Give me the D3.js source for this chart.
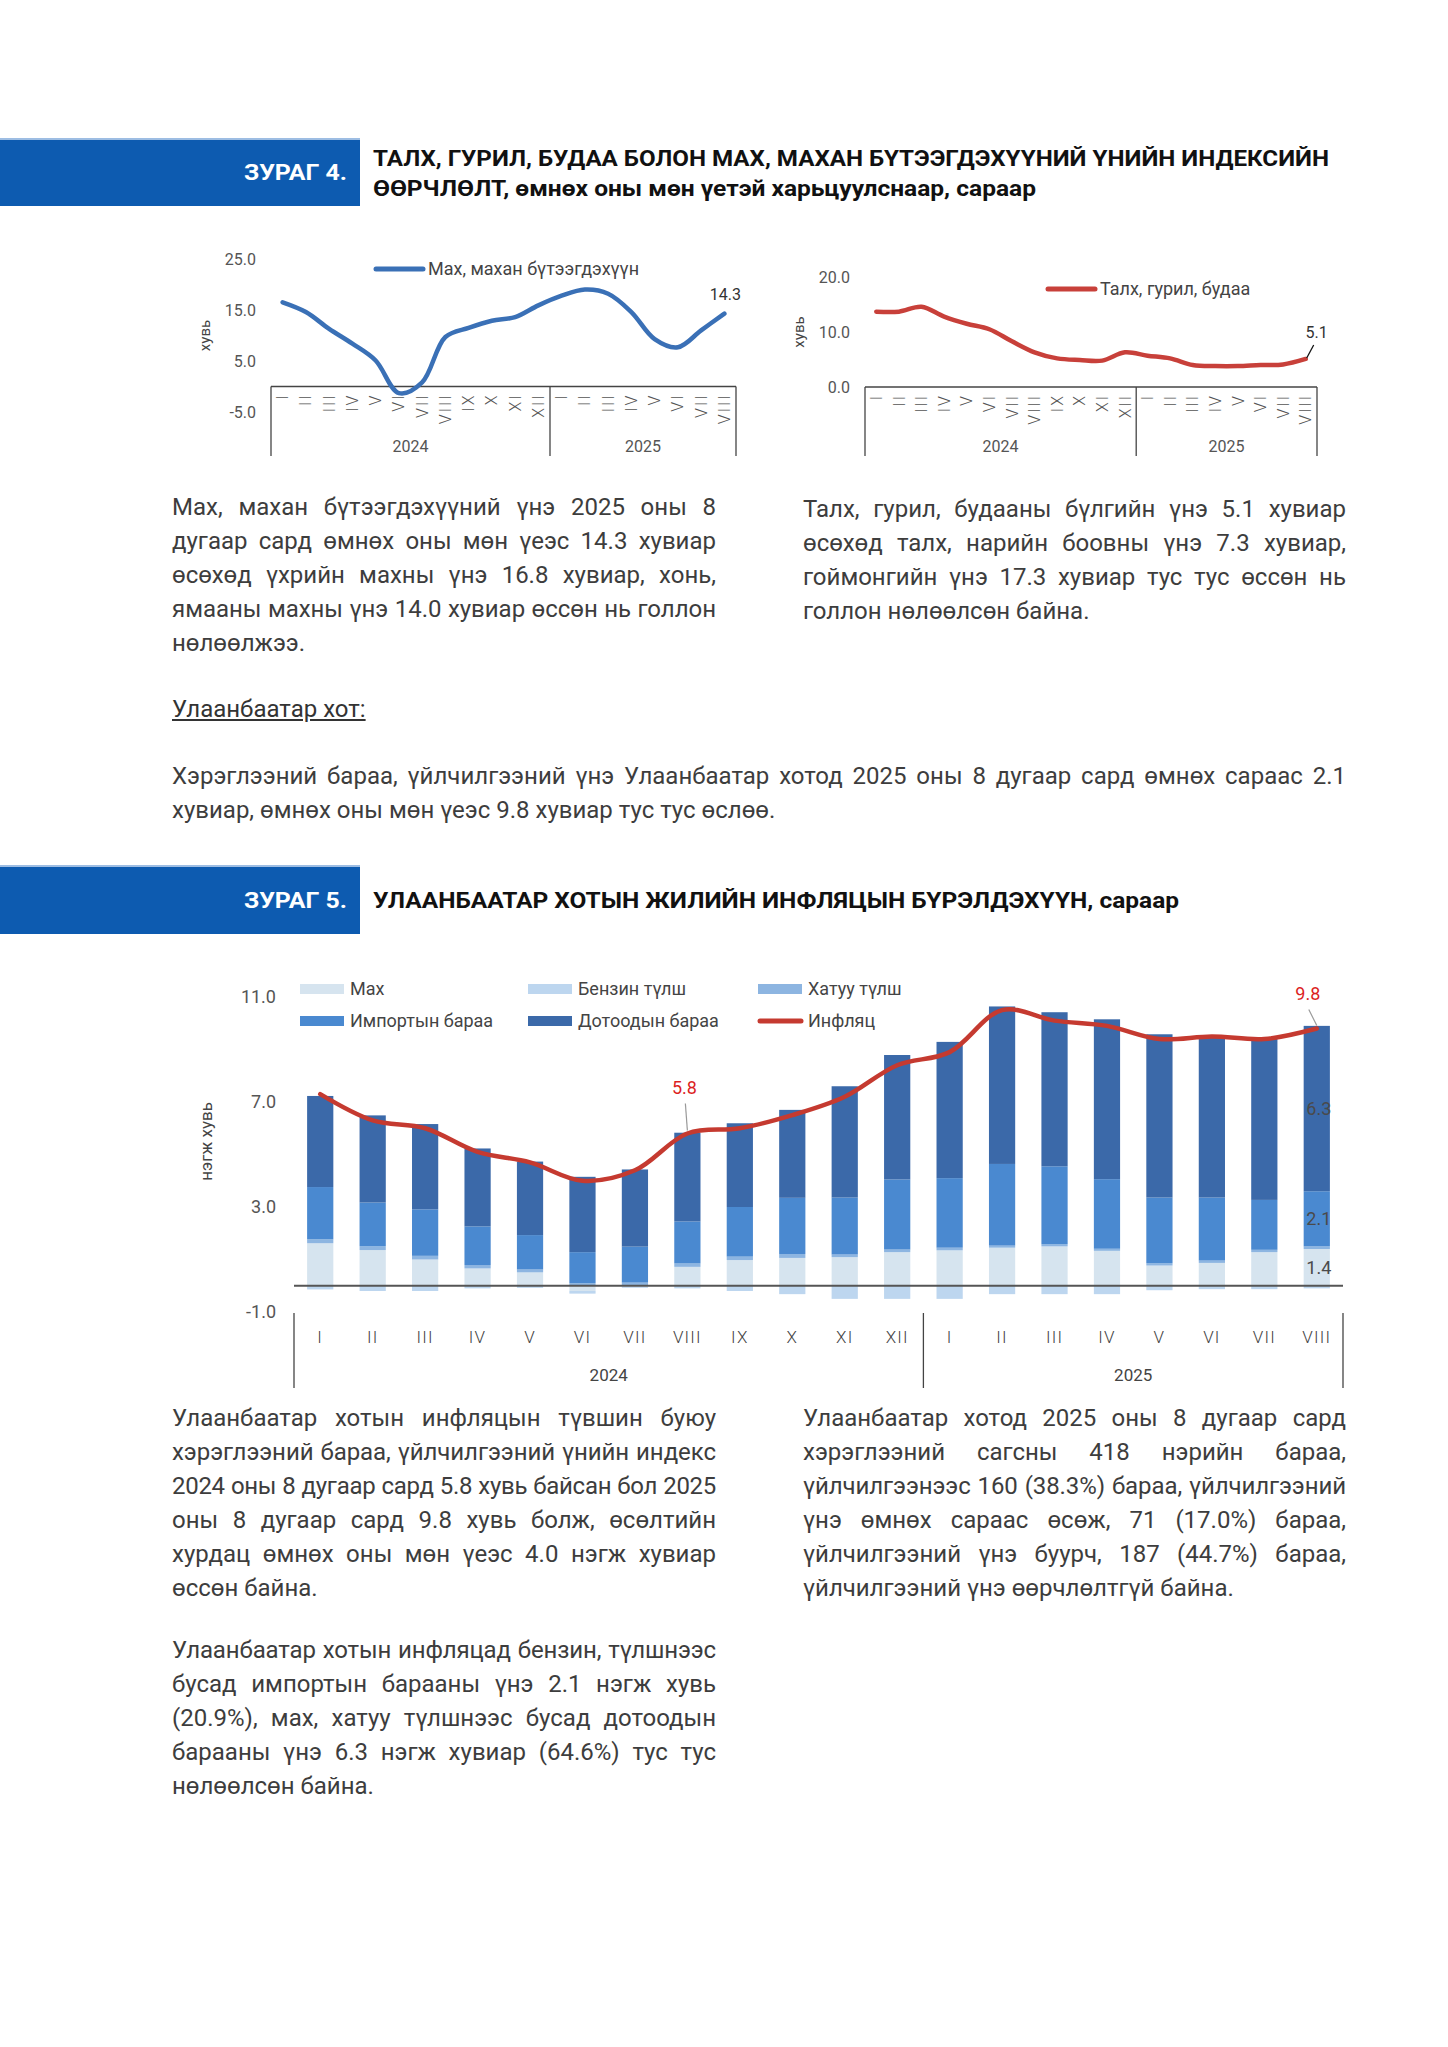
<!DOCTYPE html>
<html>
<head>
<meta charset="utf-8">
<script src="https://cdn.jsdelivr.net/npm/d3@7"></script>
<style>
  body { margin: 0; background: #fff; }
  #page { position: relative; width: 1448px; height: 2047px; overflow: hidden; font-family: Roboto, "Noto Sans", sans-serif; }
  #page svg { position: absolute; left: 0; top: 0; }
  .para { position: absolute; font-size: 24px; line-height: 34px; color: #3d3d3d; }
  .para div { text-align: justify; text-align-last: justify; white-space: nowrap; }
  .para div.last { text-align-last: left; }
</style>
</head>
<body>
<div id="page"></div>
<script>
// сарууд, он
const months = ["I","II","III","IV","V","VI","VII","VIII","IX","X","XI","XII","I","II","III","IV","V","VI","VII","VIII"];
const years = ["2024", "2025"];

// Зураг 4 - мах, талх гурил будаа (хувь)
const meatIdx  = [16.5, 14.6, 11.3, 8.4, 5.1, -1.3, 0.8, 9.7, 11.5, 12.9, 13.6, 15.9, 17.8, 19.0, 18.2, 14.6, 9.3, 7.7, 11.0, 14.3];
const breadIdx = [13.7, 13.7, 14.6, 12.8, 11.5, 10.5, 8.3, 6.3, 5.2, 4.9, 4.8, 6.3, 5.7, 5.2, 4.0, 3.8, 3.8, 4.0, 4.1, 5.1];
const meatTicks = [25, 15, 5, -5];
const breadTicks = [20, 10, 0];

// Зураг 5 - УБ инфляцын бүрэлдэхүүн (нэгж хувь)
const seriesNames = ["Мах", "Бензин түлш", "Хатуу түлш", "Импортын бараа", "Дотоодын бараа"];
const mah      = [1.62, 1.36, 1.00, 0.66, 0.51, -0.20, -0.05, 0.72, 0.98, 1.06, 1.09, 1.28, 1.35, 1.45, 1.50, 1.33, 0.77, 0.87, 1.28, 1.40];
const benzin   = [-0.14, -0.20, -0.20, -0.10, -0.08, -0.10, -0.03, -0.10, -0.20, -0.32, -0.50, -0.50, -0.50, -0.32, -0.32, -0.32, -0.17, -0.13, -0.13, -0.10];
const hatuu    = [0.15, 0.15, 0.14, 0.13, 0.11, 0.10, 0.12, 0.13, 0.13, 0.15, 0.10, 0.10, 0.10, 0.08, 0.08, 0.08, 0.09, 0.09, 0.09, 0.10];
const importGoods   = [1.99, 1.66, 1.77, 1.47, 1.31, 1.18, 1.37, 1.60, 1.89, 2.14, 2.17, 2.67, 2.65, 3.11, 2.97, 2.65, 2.50, 2.40, 1.90, 2.10];
const domesticGoods = [3.47, 3.32, 3.25, 2.97, 2.80, 2.87, 2.94, 3.38, 3.19, 3.35, 4.24, 4.74, 5.19, 6.00, 5.87, 6.09, 6.22, 6.13, 6.15, 6.30];
const inflation = [7.3, 6.3, 6.0, 5.1, 4.7, 4.0, 4.4, 5.8, 6.0, 6.5, 7.2, 8.4, 8.9, 10.5, 10.1, 9.9, 9.4, 9.5, 9.4, 9.8];
const inflTicks = [11, 7, 3, -1];
const barColors = ["#d6e4ef", "#bdd6ef", "#8db5e1", "#4a89d0", "#3b69a9"];

const page = d3.select("#page");
const svg = page.append("svg").attr("width", 1448).attr("height", 2047)
  .style("font-family", "Roboto, 'Noto Sans', sans-serif");

// ---------- толгой хэсгүүд ----------
function header(y, h, label, lines) {
  svg.append("rect").attr("x", 0).attr("y", y).attr("width", 360).attr("height", h).attr("fill", "#0d5bb0");
  svg.append("rect").attr("x", 0).attr("y", y).attr("width", 360).attr("height", 2).attr("fill", "#9dbde3");
  svg.append("text").attr("x", 347).attr("y", y + h / 2 + 8).attr("text-anchor", "end")
    .attr("fill", "#fff").attr("font-weight", 700).attr("font-size", 22)
    .attr("textLength", 103).attr("lengthAdjust", "spacingAndGlyphs").text(label);
  lines.forEach(l => {
    svg.append("text").attr("x", 373).attr("y", l.y).attr("fill", "#111")
      .attr("font-weight", 700).attr("font-size", 22)
      .attr("textLength", l.w).attr("lengthAdjust", "spacingAndGlyphs").text(l.t);
  });
}
header(138, 68, "ЗУРАГ 4.", [
  { t: "ТАЛХ, ГУРИЛ, БУДАА БОЛОН МАХ, МАХАН БҮТЭЭГДЭХҮҮНИЙ ҮНИЙН ИНДЕКСИЙН", y: 166, w: 956 },
  { t: "ӨӨРЧЛӨЛТ, өмнөх оны мөн үетэй харьцуулснаар, сараар", y: 196, w: 663 }
]);
header(865, 69, "ЗУРАГ 5.", [
  { t: "УЛААНБААТАР ХОТЫН ЖИЛИЙН ИНФЛЯЦЫН БҮРЭЛДЭХҮҮН, сараар", y: 908, w: 806 }
]);

// ---------- жижиг шугаман график ----------
function smallChart(o) {
  const x = d3.scaleBand().domain(d3.range(months.length)).range([o.x0, o.x1]);
  const y = d3.scaleLinear().domain(o.domain).range(o.yRange);
  const cx = i => x(i) + x.bandwidth() / 2;
  const g = svg.append("g");

  g.selectAll(".yt").data(o.ticks).join("text")
    .attr("x", o.x0 - 15).attr("y", d => y(d)).attr("dy", "0.35em")
    .attr("text-anchor", "end").attr("font-size", 16).attr("fill", "#555")
    .text(d => d.toFixed(1));

  g.append("text").attr("transform", `translate(${o.x0 - 66},${y(o.labelAt)}) rotate(-90)`)
    .attr("text-anchor", "middle").attr("dy", "0.35em").attr("font-size", 15).attr("fill", "#444").text("хувь");

  // ангиллын тэнхлэг (хайрцаг)
  const y0 = y(0);
  g.append("line").attr("x1", o.x0).attr("x2", o.x1).attr("y1", y0).attr("y2", y0).attr("stroke", "#444").attr("stroke-width", 1.3);
  [o.x0, x(12), o.x1].forEach(v => {
    g.append("line").attr("x1", v).attr("x2", v).attr("y1", y0).attr("y2", 456).attr("stroke", "#444").attr("stroke-width", 1.3);
  });
  g.selectAll(".mt").data(months).join("text")
    .attr("transform", (d, i) => `translate(${cx(i)},${y0 + 7}) rotate(-90)`)
    .attr("text-anchor", "end").attr("dy", "0.35em").attr("font-size", 16).attr("font-weight", 300)
    .attr("letter-spacing", 2).attr("fill", "#555").text(d => d);
  g.selectAll(".yr").data(years).join("text")
    .attr("x", (d, i) => i === 0 ? (o.x0 + x(12)) / 2 : (x(12) + o.x1) / 2)
    .attr("y", 446).attr("dy", "0.35em").attr("text-anchor", "middle")
    .attr("font-size", 16).attr("fill", "#555").text(d => d);

  const line = d3.line().x((d, i) => cx(i)).y(d => y(d)).curve(d3.curveCatmullRom.alpha(0.5));
  g.append("path").datum(o.data).attr("d", line).attr("fill", "none")
    .attr("stroke", o.color).attr("stroke-width", 4.5).attr("stroke-linecap", "round");

  // тайлбар
  g.append("line").attr("x1", o.legX).attr("x2", o.legX + 47).attr("y1", o.legY).attr("y2", o.legY)
    .attr("stroke", o.color).attr("stroke-width", 5).attr("stroke-linecap", "round");
  g.append("text").attr("x", o.legX + 52).attr("y", o.legY).attr("dy", "0.35em")
    .attr("font-size", 18).attr("fill", "#444").text(o.legend);

  const last = o.data.length - 1;
  const lx = cx(last), ly = y(o.data[last]);
  if (o.leader) {
    g.append("line").attr("x1", lx + 8).attr("y1", ly - 14).attr("x2", lx + 1).attr("y2", ly - 1)
      .attr("stroke", "#111").attr("stroke-width", 1.3);
  }
  g.append("text").attr("x", lx + o.labDx).attr("y", ly + o.labDy).attr("dy", "0.35em")
    .attr("text-anchor", "middle").attr("font-size", 16).attr("fill", "#333")
    .text(o.data[last].toFixed(1));
}

smallChart({
  x0: 271, x1: 736, domain: [-5, 25], yRange: [412, 259], ticks: meatTicks, labelAt: 10,
  data: meatIdx, color: "#3a70b6", legend: "Мах, махан бүтээгдэхүүн", legX: 376, legY: 269,
  labDx: 1, labDy: -19, leader: false
});
smallChart({
  x0: 865, x1: 1317, domain: [0, 20], yRange: [387, 277], ticks: breadTicks, labelAt: 10,
  data: breadIdx, color: "#c8403a", legend: "Талх, гурил, будаа", legX: 1048, legY: 289,
  labDx: 11, labDy: -27, leader: true
});

// ---------- Зураг 5: овоолсон багана ----------
(function () {
  const x0 = 294, x1 = 1343;
  const x = d3.scaleBand().domain(d3.range(months.length)).range([x0, x1]).paddingInner(0.5).paddingOuter(0.25);
  const y = d3.scaleLinear().domain([-1, 11]).range([1312, 997]);
  const cx = i => x(i) + x.bandwidth() / 2;
  const g = svg.append("g");

  const cols = [mah, benzin, hatuu, importGoods, domesticGoods];
  const rows = months.map((m, i) => {
    const r = { i };
    seriesNames.forEach((k, j) => { r[k] = cols[j][i]; });
    return r;
  });
  const stacked = d3.stack().keys(seriesNames).offset(d3.stackOffsetDiverging)(rows);

  g.selectAll(".yt").data(inflTicks).join("text")
    .attr("x", x0 - 18).attr("y", d => y(d)).attr("dy", "0.35em")
    .attr("text-anchor", "end").attr("font-size", 18).attr("fill", "#555").text(d => d.toFixed(1));
  g.append("text").attr("transform", `translate(206,${y(5.5)}) rotate(-90)`)
    .attr("text-anchor", "middle").attr("dy", "0.35em").attr("font-size", 17).attr("fill", "#444").text("нэгж хувь");

  g.selectAll(".series").data(stacked).join("g").attr("fill", (d, j) => barColors[j])
    .selectAll("rect").data(d => d).join("rect")
    .attr("x", d => x(d.data.i)).attr("width", x.bandwidth())
    .attr("y", d => y(Math.max(d[0], d[1])))
    .attr("height", d => Math.abs(y(d[0]) - y(d[1])));

  // тэг шугам
  g.append("line").attr("x1", x0).attr("x2", x1).attr("y1", y(0)).attr("y2", y(0))
    .attr("stroke", "#555").attr("stroke-width", 2);

  // инфляц
  const line = d3.line().x((d, i) => cx(i)).y(d => y(d)).curve(d3.curveCatmullRom.alpha(0.5));
  g.append("path").datum(inflation).attr("d", line).attr("fill", "none")
    .attr("stroke", "#c53a30").attr("stroke-width", 4.5).attr("stroke-linecap", "round");

  // ангиллын тэнхлэг
  const mid = (x(11) + x(12) + x.bandwidth()) / 2;
  [x0, mid, x1].forEach(v => {
    g.append("line").attr("x1", v).attr("x2", v).attr("y1", 1313).attr("y2", 1388).attr("stroke", "#444").attr("stroke-width", 1.3);
  });
  g.selectAll(".mt").data(months).join("text")
    .attr("x", (d, i) => cx(i)).attr("y", 1337).attr("dy", "0.35em").attr("text-anchor", "middle")
    .attr("font-size", 17).attr("font-weight", 300).attr("letter-spacing", 1.2).attr("fill", "#444").text(d => d);
  g.selectAll(".yr").data(years).join("text")
    .attr("x", (d, i) => i === 0 ? (x0 + mid) / 2 : (mid + x1) / 2).attr("y", 1375).attr("dy", "0.35em")
    .attr("text-anchor", "middle").attr("font-size", 17).attr("fill", "#444").text(d => d);

  // утгын шошго
  const last = months.length - 1;
  [0, 3, 4].forEach(j => {
    const s = stacked[j][last];
    g.append("text").attr("x", cx(last) + 2).attr("y", y((s[0] + s[1]) / 2)).attr("dy", "0.35em")
      .attr("text-anchor", "middle").attr("font-size", 18).attr("fill", "#4a4a4a").text(cols[j][last].toFixed(1));
  });
  const callouts = [{ i: 7, dx: -3, dy: -40 }, { i: last, dx: -9, dy: -29 }];
  callouts.forEach(c => {
    const px = cx(c.i), py = y(inflation[c.i]);
    g.append("line").attr("x1", px + c.dx + 1).attr("y1", py + c.dy + 10).attr("x2", px).attr("y2", py - 3)
      .attr("stroke", "#999").attr("stroke-width", 1.2);
    g.append("text").attr("x", px + c.dx).attr("y", py + c.dy).attr("text-anchor", "middle")
      .attr("font-size", 18).attr("fill", "#dc1f1f").text(inflation[c.i].toFixed(1));
  });

  // тайлбар
  const legItems = seriesNames.map((n, j) => ({ n, c: barColors[j], line: false })).concat([{ n: "Инфляц", c: "#c53a30", line: true }]);
  const legPos = [[300, 989], [528, 989], [758, 989], [300, 1021], [528, 1021], [758, 1021]];
  legItems.forEach((d, k) => {
    const [lx, ly] = legPos[k];
    if (d.line) {
      g.append("line").attr("x1", lx + 2).attr("x2", lx + 43).attr("y1", ly).attr("y2", ly)
        .attr("stroke", d.c).attr("stroke-width", 5).attr("stroke-linecap", "round");
    } else {
      g.append("rect").attr("x", lx).attr("y", ly - 5).attr("width", 44).attr("height", 10).attr("fill", d.c);
    }
    g.append("text").attr("x", lx + 50).attr("y", ly).attr("dy", "0.35em")
      .attr("font-size", 18).attr("fill", "#444").text(d.n);
  });
})();

// ---------- текст ----------
function para(left, top, width, lines) {
  const p = page.append("div").attr("class", "para")
    .style("left", left + "px").style("top", top + "px").style("width", width + "px");
  lines.forEach((l, i) => {
    const row = p.append("div").attr("class", i === lines.length - 1 ? "last" : null).text(l);
    // мөр багтахгүй бол үсгийн зайг багасгана
    const probe = page.append("span").style("position", "absolute").style("visibility", "hidden")
      .style("white-space", "nowrap").style("font-size", "24px").text(l);
    const w = probe.node().getBoundingClientRect().width;
    probe.remove();
    if (w > width - 4) row.style("letter-spacing", ((width - 4 - w) / l.length).toFixed(2) + "px");
  });
}
para(172, 490, 544, [
  "Мах, махан бүтээгдэхүүний үнэ 2025 оны 8",
  "дугаар сард өмнөх оны мөн үеэс 14.3 хувиар",
  "өсөхөд үхрийн махны үнэ 16.8 хувиар, хонь,",
  "ямааны махны үнэ 14.0 хувиар өссөн нь голлон",
  "нөлөөлжээ."
]);
para(803, 492, 543, [
  "Талх, гурил, будааны бүлгийн үнэ 5.1 хувиар",
  "өсөхөд талх, нарийн боовны үнэ 7.3 хувиар,",
  "гоймонгийн үнэ 17.3 хувиар тус тус өссөн нь",
  "голлон нөлөөлсөн байна."
]);
page.append("div").attr("class", "para").style("left", "172px").style("top", "692px")
  .style("text-decoration", "underline").style("color", "#333").text("Улаанбаатар хот:");
para(172, 759, 1174, [
  "Хэрэглээний бараа, үйлчилгээний үнэ Улаанбаатар хотод 2025 оны 8 дугаар сард өмнөх сараас 2.1",
  "хувиар, өмнөх оны мөн үеэс 9.8 хувиар тус тус өслөө."
]);
para(172, 1401, 544, [
  "Улаанбаатар хотын инфляцын түвшин буюу",
  "хэрэглээний бараа, үйлчилгээний үнийн индекс",
  "2024 оны 8 дугаар сард 5.8 хувь байсан бол 2025",
  "оны 8 дугаар сард 9.8 хувь болж, өсөлтийн",
  "хурдац өмнөх оны мөн үеэс 4.0 нэгж хувиар",
  "өссөн байна."
]);
para(803, 1401, 543, [
  "Улаанбаатар хотод 2025 оны 8 дугаар сард",
  "хэрэглээний сагсны 418 нэрийн бараа,",
  "үйлчилгээнээс 160 (38.3%) бараа, үйлчилгээний",
  "үнэ өмнөх сараас өсөж, 71 (17.0%) бараа,",
  "үйлчилгээний үнэ буурч, 187 (44.7%) бараа,",
  "үйлчилгээний үнэ өөрчлөлтгүй байна."
]);
para(172, 1633, 544, [
  "Улаанбаатар хотын инфляцад бензин, түлшнээс",
  "бусад импортын барааны үнэ 2.1 нэгж хувь",
  "(20.9%), мах, хатуу түлшнээс бусад дотоодын",
  "барааны үнэ 6.3 нэгж хувиар (64.6%) тус тус",
  "нөлөөлсөн байна."
]);
</script>
</body>
</html>
